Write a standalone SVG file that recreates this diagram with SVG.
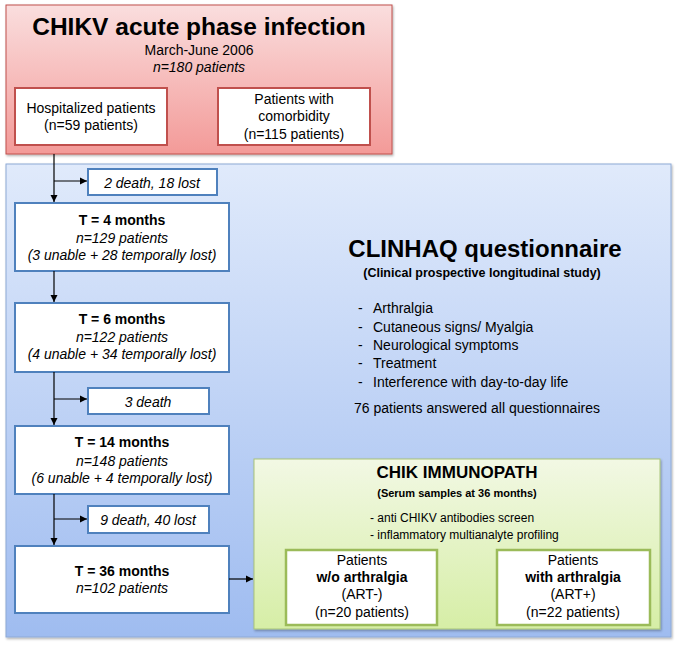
<svg xmlns="http://www.w3.org/2000/svg" width="677" height="645" viewBox="0 0 677 645">
<style>
text{font-family:"Liberation Sans",Arial,sans-serif;fill:#000;}
.c{text-anchor:middle;}
.b{font-weight:bold;}
.i{font-style:italic;}
.redbox{fill:#fff;stroke:#c0504d;stroke-width:2;}
.bluebox{fill:#fff;stroke:#4f81bd;stroke-width:2;}
.greenbox{fill:#fff;stroke:#9bbb59;stroke-width:2.5;}
.conn line{stroke:#000;stroke-width:1.2;}
</style>
<defs>
<linearGradient id="gPink" x1="0" y1="0" x2="0" y2="1">
<stop offset="0" stop-color="#fadede"/>
<stop offset="1" stop-color="#f39a98"/>
</linearGradient>
<linearGradient id="gBlue" x1="0" y1="0" x2="0" y2="1">
<stop offset="0" stop-color="#e0eafb"/>
<stop offset="1" stop-color="#9fbcf0"/>
</linearGradient>
<linearGradient id="gGreen" x1="0" y1="0" x2="0" y2="1">
<stop offset="0" stop-color="#f2f8e4"/>
<stop offset="1" stop-color="#d6eea6"/>
</linearGradient>
<filter id="sh" x="-5%" y="-5%" width="110%" height="110%">
<feDropShadow dx="1" dy="1.5" stdDeviation="1.2" flood-color="#000" flood-opacity="0.3"/>
</filter>
<marker id="arr" markerWidth="8" markerHeight="8" refX="7" refY="4" orient="auto" markerUnits="userSpaceOnUse">
<path d="M0,0.5 L7,4 L0,7.5 Z" fill="#000"/>
</marker>
</defs>

<g id="acute-phase">
<rect x="6" y="5" width="386" height="149" fill="url(#gPink)" stroke="#c0504d" stroke-width="1" filter="url(#sh)"/>
<text class="c b" x="199" y="35" font-size="24.5">CHIKV acute phase infection</text>
<text class="c" x="199" y="55" font-size="14">March-June 2006</text>
<text class="c i" x="199" y="72" font-size="14">n=180 patients</text>
</g>
<g id="hospitalized">
<rect class="redbox" x="15" y="88" width="152" height="57"/>
<text class="c" x="91" y="113" font-size="14">Hospitalized patients</text>
<text class="c" x="91" y="130" font-size="14">(n=59 patients)</text>
</g>
<g id="comorbidity">
<rect class="redbox" x="218" y="88" width="152" height="57"/>
<text class="c" x="294" y="104" font-size="14">Patients with</text>
<text class="c" x="294" y="121" font-size="14">comorbidity</text>
<text class="c" x="294" y="139" font-size="14">(n=115 patients)</text>
</g>

<g id="clinhaq">
<rect x="6" y="164" width="665" height="473" fill="url(#gBlue)" stroke="#8eaad6" stroke-width="1" filter="url(#sh)"/>
<text class="c b" x="485" y="257" font-size="24">CLINHAQ questionnaire</text>
<text class="c b" x="482" y="277" font-size="12.5">(Clinical prospective longitudinal study)</text>
<text x="358" y="313" font-size="14">-</text><text x="373" y="313" font-size="14">Arthralgia</text>
<text x="358" y="332" font-size="14">-</text><text x="373" y="332" font-size="14">Cutaneous signs/ Myalgia</text>
<text x="358" y="350" font-size="14">-</text><text x="373" y="350" font-size="14">Neurological symptoms</text>
<text x="358" y="368" font-size="14">-</text><text x="373" y="368" font-size="14">Treatment</text>
<text x="358" y="387" font-size="14">-</text><text x="373" y="387" font-size="14">Interference with day-to-day life</text>
<text x="354" y="413" font-size="14">76 patients answered all questionnaires</text>
</g>

<g id="loss1">
<rect class="bluebox" x="88" y="169" width="129" height="26"/>
<text class="c i" x="152" y="188" font-size="14">2 death, 18 lost</text>
</g>
<g id="t4">
<rect class="bluebox" x="15" y="203" width="214" height="68"/>
<text class="c b" x="122" y="225" font-size="14">T = 4 months</text>
<text class="c i" x="122" y="243" font-size="14">n=129 patients</text>
<text class="c i" x="122" y="260" font-size="14">(3 unable + 28 temporally lost)</text>
</g>
<g id="t6">
<rect class="bluebox" x="15" y="303" width="214" height="69"/>
<text class="c b" x="122" y="324" font-size="14">T = 6 months</text>
<text class="c i" x="122" y="342" font-size="14">n=122 patients</text>
<text class="c i" x="122" y="359" font-size="14">(4 unable + 34 temporally lost)</text>
</g>
<g id="loss2">
<rect class="bluebox" x="88" y="388" width="121" height="26"/>
<text class="c i" x="148" y="407" font-size="14">3 death</text>
</g>
<g id="t14">
<rect class="bluebox" x="15" y="426" width="214" height="68"/>
<text class="c b" x="122" y="447" font-size="14">T = 14 months</text>
<text class="c i" x="122" y="466" font-size="14">n=148 patients</text>
<text class="c i" x="122" y="483" font-size="14">(6 unable + 4 temporally lost)</text>
</g>
<g id="loss3">
<rect class="bluebox" x="88" y="506" width="121" height="27"/>
<text class="c i" x="148" y="525" font-size="14">9 death, 40 lost</text>
</g>
<g id="t36">
<rect class="bluebox" x="15" y="546" width="214" height="67"/>
<text class="c b" x="122" y="576" font-size="14">T = 36 months</text>
<text class="c i" x="122" y="593" font-size="14">n=102 patients</text>
</g>

<g id="immunopath">
<rect x="254" y="459" width="406" height="170" fill="url(#gGreen)" stroke="#a9c47a" stroke-width="1" filter="url(#sh)"/>
<text class="c b" x="457" y="478" font-size="17">CHIK IMMUNOPATH</text>
<text class="c b" x="457" y="497" font-size="11">(Serum samples at 36 months)</text>
<text x="370" y="522" font-size="12">- anti CHIKV antibodies screen</text>
<text x="370" y="539" font-size="12">- inflammatory multianalyte profiling</text>
</g>
<g id="art-neg">
<rect class="greenbox" x="286" y="550" width="151" height="75"/>
<text class="c" x="362" y="565" font-size="14">Patients</text>
<text class="c b" x="362" y="582" font-size="14">w/o arthralgia</text>
<text class="c" x="362" y="599" font-size="14">(ART-)</text>
<text class="c" x="362" y="617" font-size="14">(n=20 patients)</text>
</g>
<g id="art-pos">
<rect class="greenbox" x="497" y="550" width="153" height="75"/>
<text class="c" x="573" y="565" font-size="14">Patients</text>
<text class="c b" x="573" y="582" font-size="14">with arthralgia</text>
<text class="c" x="573" y="599" font-size="14">(ART+)</text>
<text class="c" x="573" y="617" font-size="14">(n=22 patients)</text>
</g>

<g id="connectors" class="conn">
<line x1="54" y1="154" x2="54" y2="202" marker-end="url(#arr)"/>
<line x1="54" y1="181" x2="87" y2="181" marker-end="url(#arr)"/>
<line x1="54" y1="271" x2="54" y2="302" marker-end="url(#arr)"/>
<line x1="54" y1="372" x2="54" y2="425" marker-end="url(#arr)"/>
<line x1="54" y1="399" x2="87" y2="399" marker-end="url(#arr)"/>
<line x1="54" y1="494" x2="54" y2="545" marker-end="url(#arr)"/>
<line x1="54" y1="519" x2="87" y2="519" marker-end="url(#arr)"/>
<line x1="229" y1="579" x2="253" y2="579" marker-end="url(#arr)"/>
</g>
</svg>
